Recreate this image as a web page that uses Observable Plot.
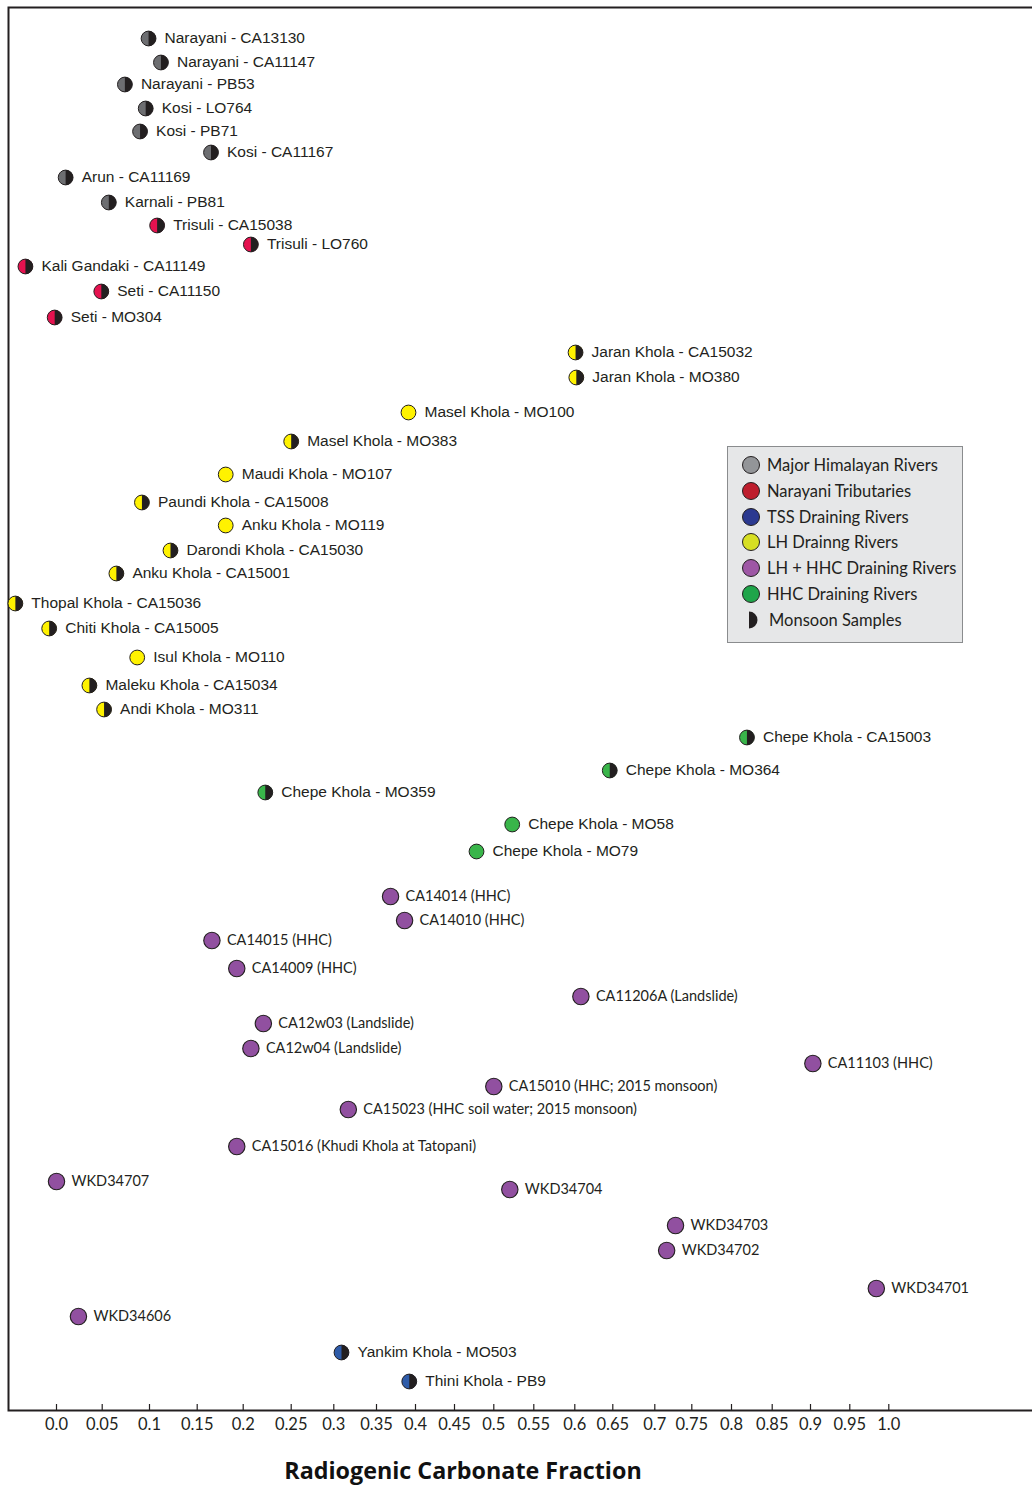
<!DOCTYPE html>
<html>
<head>
<meta charset="utf-8">
<script src="https://cdn.jsdelivr.net/npm/d3@7"></script>
<script src="https://cdn.jsdelivr.net/npm/@observablehq/plot@0.6"></script>
<style>
  html, body { margin: 0; padding: 0; background: #fff; overflow: hidden; }
  #wrap { position: relative; width: 1032px; height: 1486px; overflow: hidden; }
  #wrap svg { overflow: hidden; }
  .legend { position: absolute; left: 727px; top: 446px; width: 236px; height: 197px; box-sizing: border-box;
    background: #e6e7e8; border: 1px solid #8a8c8e; font-family: Lato, "Noto Sans", sans-serif; font-size: 16.5px; color: #231f20; }
  .legend .row { position: absolute; left: 0; height: 24px; width: 100%; }
  .legend .row svg { position: absolute; left: 0; top: 0; }
  .legend .row span { position: absolute; top: 0; line-height: 24px; white-space: nowrap; }
  .title { position: absolute; left: 0; width: 926px; top: 1455px; text-align: center; font-family: "Open Sans", "Noto Sans", sans-serif;
    font-weight: bold; font-size: 23.3px; line-height: 30px; color: #111; }
</style>
</head>
<body>
<div id="wrap"></div>
<script>
// ---- data ----
const names = [
  "Narayani - CA13130", "Narayani - CA11147", "Narayani - PB53", "Kosi - LO764", "Kosi - PB71", "Kosi - CA11167",
  "Arun - CA11169", "Karnali - PB81", "Trisuli - CA15038", "Trisuli - LO760", "Kali Gandaki - CA11149",
  "Seti - CA11150", "Seti - MO304", "Jaran Khola - CA15032", "Jaran Khola - MO380", "Masel Khola - MO100",
  "Masel Khola - MO383", "Maudi Khola - MO107", "Paundi Khola - CA15008", "Anku Khola - MO119",
  "Darondi Khola - CA15030", "Anku Khola - CA15001", "Thopal Khola - CA15036", "Chiti Khola - CA15005",
  "Isul Khola - MO110", "Maleku Khola - CA15034", "Andi Khola - MO311", "Chepe Khola - CA15003",
  "Chepe Khola - MO364", "Chepe Khola - MO359", "Chepe Khola - MO58", "Chepe Khola - MO79",
  "CA14014 (HHC)", "CA14010 (HHC)", "CA14015 (HHC)", "CA14009 (HHC)", "CA11206A (Landslide)",
  "CA12w03 (Landslide)", "CA12w04 (Landslide)", "CA11103 (HHC)", "CA15010 (HHC; 2015 monsoon)",
  "CA15023 (HHC soil water; 2015 monsoon)", "CA15016 (Khudi Khola at Tatopani)", "WKD34707", "WKD34704",
  "WKD34703", "WKD34702", "WKD34701", "WKD34606", "Yankim Khola - MO503", "Thini Khola - PB9"
];
const groups = [
  "major","major","major","major","major","major","major","major",
  "narayani","narayani","narayani","narayani","narayani",
  "lh","lh","lh","lh","lh","lh","lh","lh","lh","lh","lh","lh","lh","lh",
  "hhc","hhc","hhc","hhc","hhc",
  "lhhhc","lhhhc","lhhhc","lhhhc","lhhhc","lhhhc","lhhhc","lhhhc","lhhhc","lhhhc","lhhhc",
  "lhhhc","lhhhc","lhhhc","lhhhc","lhhhc","lhhhc",
  "tss","tss"
];
const monsoon = [
  1,1,1,1,1,1,1,1,
  1,1,1,1,1,
  1,1,0,1,0,1,0,1,1,1,1,0,1,1,
  1,1,1,0,0,
  0,0,0,0,0,0,0,0,0,0,0,0,0,0,0,0,0,
  1,1
];
const fraction = [
  0.099, 0.112, 0.074, 0.096, 0.090, 0.165, 0.010, 0.057,
  0.108, 0.208, -0.034, 0.049, -0.002,
  0.601, 0.602, 0.391, 0.250, 0.181, 0.092, 0.181, 0.122, 0.065, -0.045, -0.008, 0.087, 0.036, 0.052,
  0.819, 0.646, 0.223, 0.523, 0.478,
  0.368, 0.386, 0.166, 0.193, 0.608, 0.221, 0.208, 0.903, 0.500, 0.317, 0.193,
  0.000, 0.520, 0.728, 0.716, 0.984, 0.024,
  0.309, 0.392
];
// vertical placement of each sample, measured down from the top of the frame
const rowPos = [
  31, 55, 77, 101, 124, 145, 170, 195,
  218, 237, 259, 284, 310,
  345, 370, 405, 434, 467, 495, 518, 543, 566, 596, 621, 650, 678, 702,
  730, 763, 785, 817, 844,
  889, 913, 933, 961, 989, 1016, 1041, 1056, 1079, 1102, 1139,
  1174, 1182, 1218, 1243, 1281, 1309,
  1345, 1374
];
const tickValues = [0, 0.05, 0.1, 0.15, 0.2, 0.25, 0.3, 0.35, 0.4, 0.45, 0.5, 0.55, 0.6, 0.65, 0.7, 0.75, 0.8, 0.85, 0.9, 0.95, 1.0];
const tickLabels = ["0.0","0.05","0.1","0.15","0.2","0.25","0.3","0.35","0.4","0.45","0.5","0.55","0.6","0.65","0.7","0.75","0.8","0.85","0.9","0.95","1.0"];
const groupKeys = ["major", "narayani", "tss", "lh", "lhhhc", "hhc"];
const groupNames = ["Major Himalayan Rivers", "Narayani Tributaries", "TSS Draining Rivers", "LH Drainng Rivers", "LH + HHC Draining Rivers", "HHC Draining Rivers"];
const monsoonLabel = "Monsoon Samples";
const axisTitle = "Radiogenic Carbonate Fraction";

// ---- styles ----
const pointColors = ["#6d6e71", "#e5124f", "#2e5ba8", "#fff200", "#9150a0", "#39b54a"];
const legendColors = ["#939598", "#be1e2d", "#2b3990", "#d7df23", "#9e57a5", "#1fa54a"];
const ink = "#231f20";
// the original axis is hand-drawn with uneven tick spacing: piecewise-linear scale
const tickPixels = [56, 101.7, 149, 196.7, 242.7, 290.7, 333.3, 376, 415, 454, 493.3, 533.3, 574.3, 612.3, 654.3, 691.3, 731, 771.7, 810, 849.3, 888.3];

const samples = names.map((name, i) => ({
  name, group: groups[i], monsoon: monsoon[i] === 1, fraction: fraction[i], row: rowPos[i]
}));
const isPurple = d => d.group === "lhhhc";

const halfRight = {
  draw(context, size) {
    const r = Math.sqrt(size / Math.PI);
    context.moveTo(0, -r);
    context.arc(0, 0, r, -Math.PI / 2, Math.PI / 2);
    context.closePath();
  }
};

const W = 1032, H = 1440, mt = 7, mb = 30;
const rRiver = 7.4, rPurple = 8.2;
const sansArial = "Arial, 'Liberation Sans', sans-serif";
const sansMyriad = "Lato, 'Noto Sans', sans-serif";

const chart = Plot.plot({
  width: W, height: H,
  marginLeft: 8, marginRight: -4, marginTop: mt, marginBottom: mb,
  style: { fontFamily: sansArial, fontSize: "15.5px", color: ink, background: "white", overflow: "hidden" },
  x: { type: "linear", domain: tickValues, range: tickPixels },
  y: { domain: [0, H - mt - mb], reverse: true, axis: null },
  color: { domain: groupKeys, range: pointColors },
  marks: [
    Plot.frame({ stroke: ink, strokeWidth: 2 }),
    Plot.ruleX(tickValues, { x: d => d, insetTop: H - mt - mb - 6, stroke: ink, strokeWidth: 1.2 }),
    Plot.axisX({ ticks: tickValues, tickSize: 0, tickPadding: 8, label: null,
      tickFormat: d => tickLabels[tickValues.indexOf(d)], fontSize: 16.5, fontFamily: sansMyriad, fill: ink }),
    Plot.dot(samples.filter(d => !isPurple(d)), { x: "fraction", y: "row", r: rRiver, fill: "group", stroke: ink, strokeWidth: 1 }),
    Plot.dot(samples.filter(isPurple), { x: "fraction", y: "row", r: rPurple, fill: "group", stroke: ink, strokeWidth: 1.1 }),
    Plot.dot(samples.filter(d => d.monsoon), { x: "fraction", y: "row", r: rRiver, symbol: halfRight, fill: ink }),
    Plot.text(samples.filter(d => !isPurple(d)), { x: "fraction", y: "row", text: "name", dx: 16, textAnchor: "start",
      fontSize: 15.5, fill: ink }),
    Plot.text(samples.filter(isPurple), { x: "fraction", y: "row", text: "name", dx: 15, textAnchor: "start",
      fontFamily: sansMyriad, fontSize: 14.5, fill: ink })
  ]
});

const wrap = document.getElementById("wrap");
wrap.appendChild(chart);

// legend (sits inside the plot area in the original)
const legend = document.createElement("div");
legend.className = "legend";
const ns = "http://www.w3.org/2000/svg";
const rowTop = i => 18 + i * 25.8 - 12;
groupNames.forEach((name, i) => {
  const row = document.createElement("div");
  row.className = "row";
  row.style.top = rowTop(i) + "px";
  const s = document.createElementNS(ns, "svg");
  s.setAttribute("width", 40); s.setAttribute("height", 24);
  const c = document.createElementNS(ns, "circle");
  c.setAttribute("cx", 23); c.setAttribute("cy", 12); c.setAttribute("r", 8.5);
  c.setAttribute("fill", legendColors[i]); c.setAttribute("stroke", ink); c.setAttribute("stroke-width", 1);
  s.appendChild(c); row.appendChild(s);
  const t = document.createElement("span");
  t.style.left = "39px"; t.textContent = name;
  row.appendChild(t);
  legend.appendChild(row);
});
{
  const row = document.createElement("div");
  row.className = "row";
  row.style.top = rowTop(6) + "px";
  const s = document.createElementNS(ns, "svg");
  s.setAttribute("width", 40); s.setAttribute("height", 24);
  const p = document.createElementNS(ns, "path");
  p.setAttribute("d", "M21,3.5 A8.5,8.5 0 0 1 21,20.5 Z");
  p.setAttribute("fill", ink);
  s.appendChild(p); row.appendChild(s);
  const t = document.createElement("span");
  t.style.left = "41px"; t.textContent = monsoonLabel;
  row.appendChild(t);
  legend.appendChild(row);
}
wrap.appendChild(legend);

const title = document.createElement("div");
title.className = "title";
title.textContent = axisTitle;
wrap.appendChild(title);
</script>
</body>
</html>
